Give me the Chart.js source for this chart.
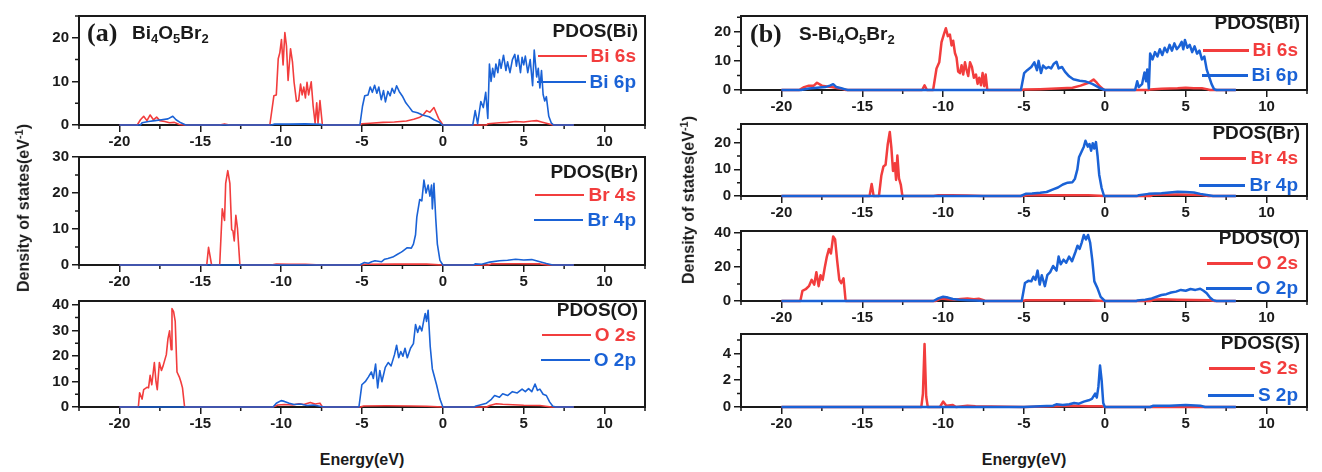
<!DOCTYPE html>
<html>
<head>
<meta charset="utf-8">
<script src="https://cdn.jsdelivr.net/npm/chart.js@4.4.0/dist/chart.umd.min.js"></script>
<style>
  body { margin: 0; background: #fff; }
  #fig { position: relative; width: 1322px; height: 472px; overflow: hidden; font-family: "Liberation Sans", Arial, sans-serif; color: #1a1a1a; }
  #fig canvas { position: absolute; }
  .txt { position: absolute; white-space: nowrap; font-weight: bold; transform: translateY(-50%); }
  .panel { font-family: "Liberation Serif", "Times New Roman", serif; font-size: 26px; }
  .formula { font-size: 19px; }
  .formula sub { font-size: 13px; vertical-align: -4px; line-height: 0; }
  .lg { position: absolute; display: flex; align-items: center; transform: translateY(-50%); font-weight: bold; font-size: 19px; }
  .lg span.ln { display: inline-block; margin-right: 4px; }
  .ylab { position: absolute; font-weight: bold; font-size: 16px; white-space: nowrap; transform: translate(-50%, -50%) rotate(-90deg); }
  .ylab sup { font-size: 11px; }
  .xlab { position: absolute; font-weight: bold; font-size: 16px; transform: translate(-50%, -50%); }
</style>
</head>
<body>
<div id="fig"></div>
<script>
const RED = '#f23d3d';
const BLUE = '#1a62d6';

const energyTicks = [-20, -15, -10, -5, 0, 5, 10];

// (a) Bi4O5Br2
const a_bi6s = [[-20,0],[-18.9,0],[-18.7,1.2],[-18.5,2.0],[-18.3,1.0],[-18.1,2.3],[-17.9,1.2],[-17.7,1.8],[-17.5,1.0],[-17.2,0.8],[-16.9,0.5],[-16.6,0.6],[-16.3,0.1],[-16.0,0],
  [-13.8,0],[-13.5,0.25],[-13.2,0],
  [-10.7,0],[-10.45,6.7],[-10.3,6.9],[-10.18,15.2],[-10.08,16.6],[-9.98,19.6],[-9.88,13.8],[-9.77,21.2],[-9.67,18.1],[-9.57,10.2],[-9.42,17.5],[-9.3,14.5],[-9.2,9.8],[-9.05,5.4],[-8.92,5.6],[-8.8,9.4],[-8.7,6.9],[-8.6,8.7],[-8.5,6.2],[-8.4,9.8],[-8.3,6.9],[-8.14,9.9],[-8.02,4.3],[-7.9,0.4],[-7.8,5.1],[-7.72,0.4],[-7.6,5.6],[-7.45,0],
  [-5.1,0],[-5.0,0.3],[-4.5,0.4],[-3.7,0.6],[-3.0,0.7],[-2.25,0.9],[-1.8,1.3],[-1.42,1.8],[-1.2,2.4],[-1.0,3.3],[-0.8,2.9],[-0.55,4.0],[-0.4,2.7],[-0.25,1.4],[-0.08,0.5],[0,0],
  [2.7,0],[2.8,0.3],[3.5,0.5],[4.0,0.6],[4.5,0.8],[5.0,0.7],[5.5,0.9],[5.8,1.0],[6.1,0.7],[6.4,0.4],[6.8,0],[8.1,0]];
const a_bi6p = [[-20,0],[-18.7,0],[-18.6,0.5],[-18.2,0.8],[-17.8,1.0],[-17.4,1.2],[-17.0,1.4],[-16.7,2.0],[-16.5,1.2],[-16.2,0.5],[-15.9,0],
  [-10.6,0],[-10.4,0.2],[-9.5,0.2],[-8.5,0.25],[-7.6,0.15],[-7.4,0],
  [-5.13,0],[-4.97,4.3],[-4.83,6.7],[-4.63,6.9],[-4.49,8.7],[-4.36,7.5],[-4.22,9.1],[-4.08,7.3],[-3.96,8.7],[-3.81,5.8],[-3.67,7.9],[-3.55,5.3],[-3.4,7.7],[-3.26,6.7],[-3.14,8.4],[-3.0,7.3],[-2.86,9.0],[-2.7,7.7],[-2.5,6.6],[-2.29,5.1],[-2.08,4.1],[-1.88,3.1],[-1.57,2.8],[-1.26,2.3],[-0.85,1.9],[-0.55,1.2],[-0.24,0.7],[-0.04,0],
  [1.85,0],[2.0,3.3],[2.15,0.3],[2.35,5.4],[2.5,4.0],[2.65,7.5],[2.78,1.5],[2.88,14],[2.98,10],[3.08,13],[3.18,11],[3.28,14],[3.4,12],[3.5,15],[3.6,13],[3.75,16],[3.9,12.5],[4.0,14.5],[4.15,12],[4.3,15],[4.45,16.2],[4.55,13.5],[4.65,16],[4.8,12],[4.9,15.5],[5.0,13.8],[5.1,15.8],[5.25,12],[5.4,15],[5.55,9],[5.65,17.2],[5.8,11],[5.9,13],[6.0,8.5],[6.1,12.5],[6.2,7],[6.3,5.5],[6.4,6.5],[6.55,2],[6.7,0.5],[6.85,0],[8.1,0]];
const a_br4s = [[-20,0],[-14.6,0],[-14.49,4.9],[-14.3,0],[-13.8,0],[-13.64,15.6],[-13.5,12.4],[-13.43,22.7],[-13.3,26.2],[-13.17,22.7],[-13.06,9.8],[-12.98,9.5],[-12.9,6.7],[-12.8,13.8],[-12.7,10.2],[-12.55,0],
  [-10.6,0],[-10.3,0.25],[-9.5,0.2],[-8.5,0.2],[-7.5,0],
  [-5.1,0],[-4.8,0.2],[-3,0.25],[-1,0.25],[0,0],
  [2.8,0],[3.0,0.3],[4.5,0.35],[6.0,0.3],[6.5,0],[8.1,0]];
const a_br4p = [[-20,0],[-5.15,0],[-4.85,0.7],[-4.6,0.5],[-4.4,0.9],[-4.2,1.2],[-3.8,0.9],[-3.6,1.6],[-3.4,1.8],[-3.1,2.2],[-2.8,3.0],[-2.6,3.5],[-2.5,3.8],[-2.2,4.8],[-1.95,4.7],[-1.82,5.8],[-1.69,8.4],[-1.61,13.3],[-1.43,18.2],[-1.3,17.8],[-1.17,23.6],[-1.04,20],[-0.91,22.2],[-0.8,19.1],[-0.7,22.2],[-0.65,15.6],[-0.55,22.7],[-0.44,12.9],[-0.34,5.8],[-0.18,1.3],[0,0],
  [1.9,0],[2.0,0.3],[2.4,0.2],[2.9,0.8],[3.5,1.2],[4.0,1.3],[4.5,1.6],[5.0,1.4],[5.5,1.5],[6.0,0.9],[6.4,0.4],[6.8,0],[8.1,0]];
const a_o2s = [[-20,0],[-18.83,0],[-18.75,5.6],[-18.6,3.1],[-18.5,6.8],[-18.3,7.7],[-18.2,7.5],[-18.1,12.4],[-18.0,8.7],[-17.84,17.4],[-17.74,9.9],[-17.66,6.8],[-17.53,17.4],[-17.4,14.3],[-17.3,16.1],[-17.1,20.5],[-17.0,26.7],[-16.9,29.8],[-16.8,22.4],[-16.75,38.5],[-16.65,37.3],[-16.55,33.5],[-16.44,13.7],[-16.3,11.8],[-16.2,9.9],[-16.1,7.5],[-15.97,0],
  [-10.5,0],[-10.2,0.8],[-9.8,1.0],[-9.3,0.8],[-8.9,1.3],[-8.6,1.0],[-8.2,1.8],[-7.9,1.2],[-7.6,1.5],[-7.45,0],
  [-5.1,0],[-4.9,0.4],[-3.5,0.5],[-2,0.4],[-1,0.3],[0,0],
  [2.7,0],[2.9,0.6],[3.3,1.3],[3.7,1.1],[4.0,1.0],[5.0,0.7],[6.0,0.6],[6.7,0],[8.1,0]];
const a_o2p = [[-20,0],[-10.5,0],[-10.3,1.5],[-10.0,2.5],[-9.8,2.2],[-9.5,1.5],[-9.2,1.0],[-8.8,1.2],[-8.4,0.6],[-8.0,0.8],[-7.6,0.3],[-7.3,0],
  [-5.19,0],[-5.01,8.7],[-4.8,9.9],[-4.6,11.8],[-4.42,13.7],[-4.3,11.2],[-4.16,16.8],[-4.03,7.5],[-3.9,14.3],[-3.77,9.9],[-3.56,15.5],[-3.38,17.4],[-3.2,16.1],[-2.99,20.5],[-2.86,24.2],[-2.73,19.3],[-2.6,21.7],[-2.47,19.9],[-2.34,23],[-2.2,19.3],[-2.0,23],[-1.82,24.8],[-1.69,32.3],[-1.56,29.2],[-1.43,31.7],[-1.3,29.8],[-1.17,34.2],[-1.09,36.6],[-1.01,33.5],[-0.91,37.9],[-0.78,23.6],[-0.65,14.9],[-0.39,8.7],[-0.18,3.1],[0,0],
  [1.95,0],[2.0,0.3],[2.3,0.8],[2.7,1.5],[3.0,3],[3.2,4.5],[3.5,3.8],[3.7,5.2],[4.0,4.5],[4.3,6.0],[4.6,5.5],[4.9,7.0],[5.1,6.0],[5.3,7.2],[5.5,6.0],[5.7,9.0],[5.85,6.5],[6.0,7.0],[6.2,5.0],[6.4,4.5],[6.6,2.0],[6.8,0.3],[7.0,0],[8.1,0]];

// (b) S-Bi4O5Br2
const b_bi6s = [[-20,0],[-18.9,0],[-18.6,1.0],[-18.3,1.5],[-18.0,1.5],[-17.8,2.5],[-17.5,1.5],[-17.2,1.2],[-16.9,1.0],[-16.5,0.6],[-16.2,0.3],[-16.0,0],
  [-11.3,0],[-11.15,1.6],[-11.0,0],
  [-10.62,0],[-10.41,7.4],[-10.24,9.5],[-10.1,16.4],[-9.96,19.0],[-9.83,21.2],[-9.71,18.5],[-9.58,19.0],[-9.48,15.3],[-9.38,16.9],[-9.27,12.7],[-9.17,11.1],[-9.07,6.3],[-8.96,5.8],[-8.86,8.5],[-8.76,5.3],[-8.65,9.5],[-8.55,6.9],[-8.45,4.8],[-8.34,9.5],[-8.22,7.9],[-8.1,4.2],[-7.97,5.3],[-7.87,2.1],[-7.77,4.2],[-7.66,1.6],[-7.56,5.8],[-7.46,1.3],[-7.37,5.3],[-7.27,0],
  [-5.1,0],[-5.0,0.2],[-4,0.3],[-3,0.5],[-2,0.8],[-1.5,1.5],[-1.0,2.5],[-0.7,3.6],[-0.5,2.5],[-0.3,1.2],[-0.05,0],
  [2.7,0],[2.8,0.2],[3.5,0.4],[4.5,0.6],[5.0,0.8],[5.5,0.6],[6.0,0.6],[6.3,0.3],[6.5,0],[8.1,0]];
const b_bi6p = [[-20,0],[-18.8,0],[-18.3,0.5],[-17.8,0.8],[-17.3,1.0],[-17.0,1.5],[-16.8,2.0],[-16.6,1.0],[-16.3,0.6],[-16.1,0.3],[-15.9,0],
  [-5.19,0],[-4.99,5.8],[-4.8,6.8],[-4.55,7.9],[-4.36,9.5],[-4.2,6.8],[-4.1,10],[-3.95,5.8],[-3.82,8.4],[-3.64,7.4],[-3.48,7.9],[-3.32,7.4],[-3.17,8.9],[-2.99,9.7],[-2.86,7.4],[-2.65,7.9],[-2.47,6.3],[-2.21,4.7],[-1.95,3.7],[-1.56,3.2],[-1.17,2.9],[-0.78,2.1],[-0.52,1.3],[-0.26,0.5],[0,0],
  [1.87,0],[2.0,3.0],[2.1,1.0],[2.3,2.0],[2.45,6.0],[2.55,3],[2.62,7],[2.72,0.5],[2.8,12.5],[2.95,10.5],[3.1,13],[3.25,11.5],[3.4,14],[3.55,12],[3.7,14.5],[3.85,13],[4.0,15.5],[4.15,13.5],[4.3,16],[4.45,14],[4.6,15],[4.75,16.5],[4.85,14],[4.95,17.2],[5.1,14.5],[5.25,15.5],[5.4,13],[5.55,15],[5.7,12.5],[5.85,13.5],[6.0,10.5],[6.15,11.5],[6.3,7],[6.45,4.5],[6.6,2],[6.75,0.3],[6.9,0],[8.1,0]];
const b_br4s = [[-20,0],[-14.55,0],[-14.42,4.5],[-14.3,0],[-13.97,0],[-13.82,7.7],[-13.69,11.1],[-13.56,11.7],[-13.43,19.2],[-13.3,24],[-13.2,18],[-13.1,9.4],[-12.99,12.3],[-12.91,6],[-12.83,15.2],[-12.73,6.6],[-12.62,4.3],[-12.52,0],
  [-10.6,0],[-10.3,0.3],[-9.5,0.25],[-8.5,0.2],[-7.5,0],
  [-5.1,0],[-4.8,0.25],[-3,0.3],[-1,0.25],[0,0],
  [2.8,0],[3.0,0.5],[4.5,0.55],[6.0,0.4],[6.4,0],[8.1,0]];
const b_br4p = [[-20,0],[-5.2,0],[-4.9,0.8],[-4.5,0.9],[-4.0,1.2],[-3.6,1.5],[-3.2,2.5],[-2.9,3.2],[-2.6,4.3],[-2.3,5.0],[-2.0,5.2],[-1.85,6.5],[-1.7,10],[-1.6,14.5],[-1.45,16.5],[-1.3,18.5],[-1.2,20.7],[-1.05,18.5],[-0.95,19.5],[-0.85,17],[-0.75,19.8],[-0.65,17.8],[-0.55,20.2],[-0.45,15],[-0.35,8],[-0.2,3],[-0.05,0],
  [2.0,0],[2.1,0.3],[2.7,0.8],[3.5,1.0],[4.0,1.3],[4.5,1.6],[5.0,1.5],[5.5,1.3],[5.9,0.8],[6.3,0.4],[6.7,0],[8.1,0]];
const b_o2s = [[-20,0],[-18.83,0],[-18.7,6],[-18.5,6.9],[-18.3,8.7],[-18.13,12.4],[-17.97,9.6],[-17.84,16.9],[-17.7,8.7],[-17.58,15.1],[-17.45,12.4],[-17.32,19.6],[-17.19,26],[-17.06,30.5],[-16.94,27.8],[-16.8,37.8],[-16.68,36],[-16.55,23.3],[-16.42,12.4],[-16.3,10.5],[-16.16,13.3],[-16.03,0],
  [-10.5,0],[-10.1,1.5],[-9.7,1.0],[-9.3,0.8],[-8.9,1.2],[-8.5,1.5],[-8.1,1.0],[-7.8,1.3],[-7.5,0.5],[-7.4,0],
  [-5.1,0],[-4.9,0.4],[-3,0.5],[-1,0.4],[0,0],
  [2.8,0],[3.0,0.8],[3.5,1.0],[4.5,0.8],[5.5,0.6],[6.5,0.4],[6.8,0],[8.1,0]];
const b_o2p = [[-20,0],[-10.6,0],[-10.3,1.5],[-10.0,2.5],[-9.7,2.0],[-9.4,1.2],[-9.0,0.8],[-8.5,0.5],[-8.0,0.3],[-7.5,0],
  [-5.14,0],[-4.94,10.5],[-4.73,11.8],[-4.55,11.5],[-4.42,14.2],[-4.29,12.4],[-4.16,17.8],[-4.03,9.6],[-3.9,15.1],[-3.71,8.7],[-3.56,15.1],[-3.38,16.9],[-3.2,20.5],[-2.99,17.8],[-2.86,26],[-2.73,21.5],[-2.55,24.2],[-2.39,22.4],[-2.21,26],[-2.03,23.3],[-1.82,28.7],[-1.69,32.4],[-1.56,30.5],[-1.43,34.2],[-1.3,38.7],[-1.17,36],[-1.04,38.7],[-0.91,34.2],[-0.78,24.2],[-0.65,11.5],[-0.47,7.8],[-0.26,2.4],[0,0],
  [1.95,0],[2.0,0.3],[2.5,0.8],[2.9,1.5],[3.2,2.5],[3.5,3.5],[3.8,4.0],[4.1,5.0],[4.4,5.5],[4.7,6.5],[5.0,6.0],[5.3,7.0],[5.6,6.5],[5.9,7.2],[6.1,6.0],[6.3,4.5],[6.5,2.0],[6.7,0.5],[6.9,0],[8.1,0]];
const b_s2s = [[-20,0],[-11.35,0],[-11.25,1.0],[-11.15,4.7],[-11.05,0.8],[-10.95,0],[-10.2,0],[-10.0,0.4],[-9.8,0.1],[-9.4,0.15],[-9.2,0],[-8.5,0.1],[-8,0.05],[-5,0],[-3,0.05],[-2,0.1],[-1,0.05],[-0.2,0.05],[0,0],[8.1,0]];
const b_s2p = [[-20,0],[-5,0],[-4,0.05],[-3.2,0.1],[-3.0,0.2],[-2.6,0.15],[-2.2,0.2],[-1.9,0.3],[-1.6,0.25],[-1.3,0.4],[-1.0,0.5],[-0.8,0.6],[-0.6,1.0],[-0.5,0.7],[-0.4,1.5],[-0.3,3.1],[-0.2,2.0],[-0.1,0.3],[0,0],[2.8,0],[3.0,0.1],[4,0.1],[5,0.15],[5.9,0.1],[6.2,0],[8.1,0]];

const yTicksBi = [0, 10, 20];
const yTicksBrA = [0, 10, 20, 30];
const yTicksOA = [0, 10, 20, 30, 40];
const yTicksBrB = [0, 10, 20];
const yTicksOB = [0, 20, 40];
const yTicksS = [0, 2, 4];

const AX_W = 70, AX_H = 32, PAD = 6;
const fig = document.getElementById('fig');

// frame around the plot area and the short minor ticks
const framePlugin = {
  id: 'frame',
  beforeDatasetsDraw(chart) {
    const { ctx, chartArea: a, scales } = chart;
    const o = chart.options.plugins.frame;
    ctx.save();
    ctx.strokeStyle = '#1a1a1a';
    ctx.lineWidth = 2;
    ctx.strokeRect(a.left, a.top, a.right - a.left, a.bottom - a.top);
    ctx.lineWidth = 1.5;
    ctx.beginPath();
    for (let v = -22.5; v <= 12.5; v += 2.5) {
      if (v % 5 === 0) continue;
      const px = scales.x.getPixelForValue(v);
      ctx.moveTo(px, a.bottom);
      ctx.lineTo(px, a.bottom + 4);
    }
    for (let v = o.minor; v <= scales.y.max; v += o.minor) {
      if (o.major.includes(v)) continue;
      const py = scales.y.getPixelForValue(v);
      ctx.moveTo(a.left, py);
      ctx.lineTo(a.left - 4, py);
    }
    ctx.stroke();
    ctx.restore();
  }
};

function addText(html, cls, x, y, extra) {
  const d = document.createElement('div');
  d.className = cls;
  d.innerHTML = html;
  d.style.left = x + 'px';
  d.style.top = y + 'px';
  if (extra) Object.assign(d.style, extra);
  fig.appendChild(d);
  return d;
}

function addLegend(right, y, label, color, lineLen, lineW) {
  const d = document.createElement('div');
  d.className = 'lg';
  d.style.right = (1322 - right) + 'px';
  d.style.top = y + 'px';
  d.style.color = color;
  d.innerHTML = `<span class="ln" style="width:${lineLen}px;height:${lineW}px;background:${color}"></span><span>${label}</span>`;
  fig.appendChild(d);
}

function makePlot(p) {
  const cv = document.createElement('canvas');
  const w = p.width + AX_W + PAD, h = p.height + PAD + AX_H;
  cv.width = w; cv.height = h;
  cv.style.left = (p.left - AX_W) + 'px';
  cv.style.top = (p.top - PAD) + 'px';
  fig.appendChild(cv);

  const tickFont = { family: '"Liberation Sans", Arial, sans-serif', size: 15, weight: 'bold' };
  const line = (data, color) => ({
    data: data.map(d => ({ x: d[0], y: d[1] })),
    borderColor: color,
    borderWidth: p.lw,
    pointRadius: 0,
    borderJoinStyle: 'round',
    tension: 0,
    clip: 4
  });

  new Chart(cv, {
    type: 'line',
    data: { datasets: [line(p.blue, BLUE), line(p.red, RED)] },
    plugins: [framePlugin],
    options: {
      responsive: false,
      animation: false,
      devicePixelRatio: 1,
      layout: { padding: { left: 0, right: PAD, top: PAD, bottom: 0 } },
      plugins: {
        legend: { display: false },
        tooltip: { enabled: false },
        frame: { major: p.yTicks, minor: p.yMinor }
      },
      scales: {
        x: {
          type: 'linear', min: -22.5, max: 12.5,
          afterBuildTicks: s => { s.ticks = energyTicks.map(v => ({ value: v })); },
          afterFit: s => { s.height = AX_H; },
          grid: { drawOnChartArea: false, tickLength: 7, color: '#1a1a1a', lineWidth: 1.5 },
          border: { color: '#1a1a1a', width: 2 },
          ticks: { font: tickFont, color: '#1a1a1a', padding: 1, maxRotation: 0 }
        },
        y: {
          type: 'linear', min: 0, max: p.ymax,
          afterBuildTicks: s => { s.ticks = p.yTicks.map(v => ({ value: v })); },
          afterFit: s => { s.width = AX_W; },
          grid: { drawOnChartArea: false, tickLength: 7, color: '#1a1a1a', lineWidth: 1.5 },
          border: { color: '#1a1a1a', width: 2 },
          ticks: { font: tickFont, color: '#1a1a1a', padding: 3 }
        }
      }
    }
  });

  const right = p.left + p.width - 7;
  addText(p.title, 'txt', 0, p.legY[0], { right: (1322 - right) + 'px', left: 'auto', fontSize: '19px' });
  addLegend(right - 2, p.legY[1], p.names[0], RED, p.legLen, p.lw + 0.5);
  addLegend(right - 2, p.legY[2], p.names[1], BLUE, p.legLen, p.lw + 0.5);
}

const LA = 79, LB = 741, PW = 566;

makePlot({ left: LA, top: 10, width: PW, height: 115, ymax: 25, yTicks: yTicksBi, yMinor: 5, red: a_bi6s, blue: a_bi6p, lw: 1.6,
  title: 'PDOS(Bi)', names: ['Bi 6s', 'Bi 6p'], legY: [31, 56, 82], legLen: 49 });
makePlot({ left: LA, top: 151, width: PW, height: 114, ymax: 30, yTicks: yTicksBrA, yMinor: 5, red: a_br4s, blue: a_br4p, lw: 1.6,
  title: 'PDOS(Br)', names: ['Br 4s', 'Br 4p'], legY: [172, 195, 220], legLen: 49 });
makePlot({ left: LA, top: 295, width: PW, height: 112, ymax: 41.5, yTicks: yTicksOA, yMinor: 5, red: a_o2s, blue: a_o2p, lw: 1.6,
  title: 'PDOS(O)', names: ['O 2s', 'O 2p'], legY: [310, 335, 360], legLen: 49 });

makePlot({ left: LB, top: 10, width: PW, height: 80, ymax: 25.4, yTicks: yTicksBi, yMinor: 5, red: b_bi6s, blue: b_bi6p, lw: 2.5,
  title: 'PDOS(Bi)', names: ['Bi 6s', 'Bi 6p'], legY: [23, 50, 75], legLen: 46 });
makePlot({ left: LB, top: 118, width: PW, height: 78, ymax: 27, yTicks: yTicksBrB, yMinor: 5, red: b_br4s, blue: b_br4p, lw: 2.5,
  title: 'PDOS(Br)', names: ['Br 4s', 'Br 4p'], legY: [133, 158, 185], legLen: 46 });
makePlot({ left: LB, top: 225, width: PW, height: 76, ymax: 41, yTicks: yTicksOB, yMinor: 10, red: b_o2s, blue: b_o2p, lw: 2.5,
  title: 'PDOS(O)', names: ['O 2s', 'O 2p'], legY: [238, 263, 288], legLen: 46 });
makePlot({ left: LB, top: 328, width: PW, height: 79, ymax: 5.45, yTicks: yTicksS, yMinor: 1, red: b_s2s, blue: b_s2p, lw: 2.5,
  title: 'PDOS(S)', names: ['S 2s', 'S 2p'], legY: [343, 368, 395], legLen: 46 });

// panel titles
addText('(a)', 'txt panel', 87, 33);
addText('Bi<sub>4</sub>O<sub>5</sub>Br<sub>2</sub>', 'txt formula', 132, 33);
addText('(b)', 'txt panel', 750, 34);
addText('S-Bi<sub>4</sub>O<sub>5</sub>Br<sub>2</sub>', 'txt formula', 799, 34);

// axis titles
addText('Density of states(eV<sup>-1</sup>)', 'ylab', 23, 208);
addText('Density of states(eV<sup>-1</sup>)', 'ylab', 688, 200);
addText('Energy(eV)', 'xlab', 362, 460);
addText('Energy(eV)', 'xlab', 1024, 460);
</script>
</body>
</html>
